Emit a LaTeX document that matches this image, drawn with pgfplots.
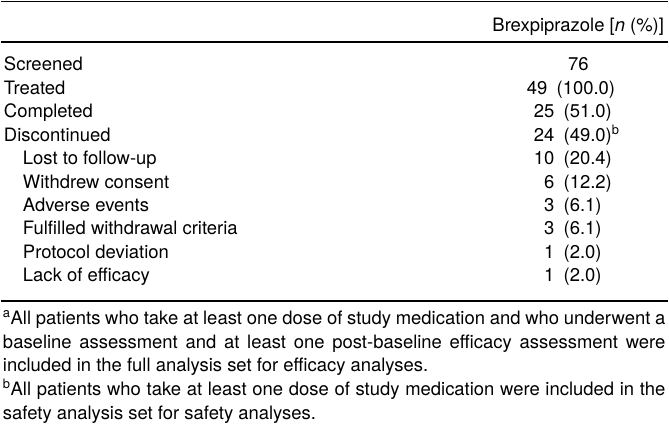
\documentclass[border=0pt]{standalone}
\usepackage{pgfplots}
\pgfplotsset{compat=1.18}
\usepackage{pgfplotstable}
\usepackage{fontspec}
\setmainfont{TeX Gyre Heros}
\newcommand{\body}{\fontsize{18.5bp}{21bp}\selectfont}

\pgfplotstableread[col sep=comma]{
x,y,label
3,71,Screened
3,94.5,Treated
3,118,Completed
3,141.5,Discontinued
22,165,Lost to follow-up
22,188.5,Withdrew consent
22,212,Adverse events
22,235.5,Fulfilled withdrawal criteria
22,259,Protocol deviation
22,282.5,Lack of efficacy
}\labels

\pgfplotstableread[col sep=comma]{
x,y,n
548,94.5,49
555,118,25
555,141.5,24
555,165,10
555,188.5,6
555,212,3
555,235.5,3
555,259,1
555,282.5,1
}\ncol

\pgfplotstableread[col sep=comma]{
x,y,pct
557,94.5,(100.0)
564,118,(51.0)
564,141.5,(49.0)\textsuperscript{b}
564,165,(20.4)
564,188.5,(12.2)
564,212,(6.1)
564,235.5,(6.1)
564,259,(2.0)
564,282.5,(2.0)
}\pcol

\begin{document}
\begin{tikzpicture}
\begin{axis}[
  width=669bp, height=427bp, scale only axis,
  xmin=0, xmax=669, ymin=0, ymax=427, y dir=reverse,
  hide axis, clip=false,
  every node near coord/.append style={inner sep=0pt, font=\body, text=black},
]
\path (axis cs:0,0) rectangle (axis cs:669,427);
% rules
\draw[line width=1.6bp] (axis cs:0,1.5) -- (axis cs:669,1.5);
\draw[line width=1.3bp] (axis cs:0,42) -- (axis cs:669,42);
\draw[line width=1.6bp] (axis cs:0,302) -- (axis cs:669,302);
% header
\node[anchor=base east, inner sep=0pt, font=\body] at (axis cs:665,32) {Brexpiprazole [\textit{n} (\%)]};
% row labels
\addplot[draw=none, mark=none, nodes near coords, point meta=explicit symbolic,
  every node near coord/.append style={anchor=base west}]
  table[x=x, y=y, meta=label]{\labels};
% n values
\addplot[draw=none, mark=none, nodes near coords, point meta=explicit symbolic,
  every node near coord/.append style={anchor=base east}]
  table[x=x, y=y, meta=n]{\ncol};
\addplot[draw=none, mark=none, nodes near coords, point meta=explicit symbolic,
  every node near coord/.append style={anchor=base}]
  coordinates {(579,71) [76]};
% percentages
\addplot[draw=none, mark=none, nodes near coords, point meta=explicit symbolic,
  every node near coord/.append style={anchor=base west}]
  table[x=x, y=y, meta=pct]{\pcol};
% footnotes
\node[anchor=base west, inner sep=0pt, font=\body] at (axis cs:2,325) {\makebox[664bp][s]{\textsuperscript{a}All patients who take at least one dose of study medication and who underwent a}};
\node[anchor=base west, inner sep=0pt, font=\body] at (axis cs:2,349) {\makebox[664bp][s]{baseline assessment and at least one post-baseline efficacy assessment were}};
\node[anchor=base west, inner sep=0pt, font=\body] at (axis cs:2,372.5) {included in the full analysis set for efficacy analyses.};
\node[anchor=base west, inner sep=0pt, font=\body] at (axis cs:2,396) {\makebox[664bp][s]{\textsuperscript{b}All patients who take at least one dose of study medication were included in the}};
\node[anchor=base west, inner sep=0pt, font=\body] at (axis cs:2,420) {safety analysis set for safety analyses.};
\end{axis}
\end{tikzpicture}
\end{document}
